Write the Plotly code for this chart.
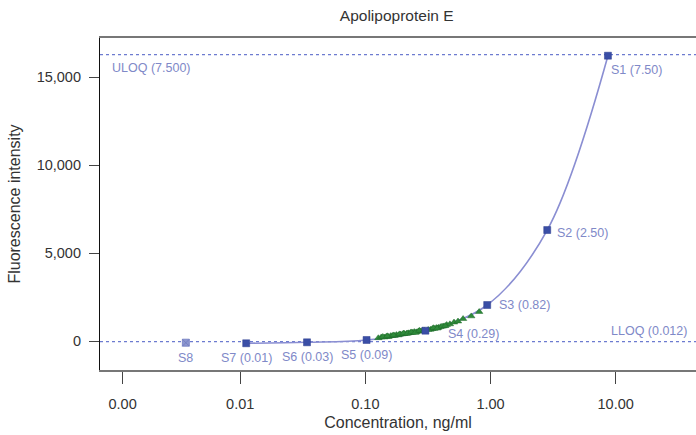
import math
import plotly.graph_objects as go

# Standards
std_names = ["S1 (7.50)", "S2 (2.50)", "S3 (0.82)", "S4 (0.29)", "S5 (0.09)", "S6 (0.03)", "S7 (0.01)", "S8"]
std_conc = [8.68, 2.84, 0.941, 0.302, 0.1023, 0.0342, 0.01117, 0.00368]
std_fi = [16210, 6305, 2045, 585, 57, -74, -130, -97]

# Samples (green triangles)
smp_conc = [0.127, 0.134, 0.142, 0.147, 0.153, 0.159, 0.164, 0.171, 0.177, 0.184,
            0.191, 0.198, 0.205, 0.213, 0.221, 0.229, 0.238, 0.246, 0.256, 0.265,
            0.275, 0.285, 0.331, 0.343, 0.356, 0.369, 0.383, 0.398, 0.422, 0.447,
            0.474, 0.511, 0.550, 0.604, 0.702, 0.812,
            0.138, 0.150, 0.168, 0.187, 0.202, 0.217, 0.233, 0.250, 0.270, 0.295,
            0.318, 0.350, 0.376, 0.410, 0.435]
smp_fi = [170, 215, 210, 250, 240, 290, 300, 300, 350, 330,
          380, 390, 410, 420, 450, 470, 480, 520, 505, 550,
          560, 590, 650, 690, 700, 750, 760, 800, 840, 920,
          960, 1060, 1120, 1260, 1410, 1660,
          240, 280, 330, 390, 440, 430, 500, 470, 590, 600,
          640, 740, 720, 830, 860]

# Limits of quantitation
uloq_fi = 16267
lloq_fi = -40
uloq_label = "ULOQ (7.500)"
lloq_label = "LLOQ (0.012)"

x_tickvals = [0.00115, 0.01, 0.1, 1, 10]
x_ticktext = ["0.00", "0.01", "0.10", "1.00", "10.00"]
y_tickvals = [0, 5000, 10000, 15000]
y_ticktext = ["0", "5,000", "10,000", "15,000"]

FONT = "Liberation Sans, Arial, Helvetica, sans-serif"
LBL = "#8089c8"
MK = "#3a4ea6"
TXT = "#333333"

fig = go.Figure()

# fitted curve through standards S1..S7
curve_x = std_conc[:7][::-1]
curve_y = std_fi[:7][::-1]
fig.add_trace(go.Scatter(x=curve_x, y=curve_y, mode="lines",
                         line=dict(color="#8a8ed2", width=1.6, shape="spline", smoothing=1.0),
                         hoverinfo="skip", showlegend=False))

# samples
fig.add_trace(go.Scatter(x=smp_conc, y=smp_fi, mode="markers",
                         marker=dict(symbol="triangle-up", size=6.5, color="#2f8a3a",
                                     line=dict(color="#1f6b2a", width=0.5)),
                         showlegend=False))

# standards S1..S7
fig.add_trace(go.Scatter(x=std_conc[:7], y=std_fi[:7], mode="markers",
                         marker=dict(symbol="square", size=7, color=MK,
                                     line=dict(color="#2c3d8f", width=0.5)),
                         showlegend=False))
# S8 (excluded)
fig.add_trace(go.Scatter(x=std_conc[7:], y=std_fi[7:], mode="markers",
                         marker=dict(symbol="square-x", size=7, color="#8d97cf",
                                     line=dict(color="#6f7bc0", width=0.8)),
                         showlegend=False))

# ULOQ / LLOQ lines
for v in (uloq_fi, lloq_fi):
    fig.add_shape(type="line", xref="paper", x0=0, x1=1, yref="y", y0=v, y1=v,
                  line=dict(color="#6d7bd0", width=1.2, dash="dot"), layer="below")

LFONT = dict(family=FONT, size=12.5, color=LBL)
annos = []
annos.append(dict(xref="paper", x=0.017, yref="y", y=uloq_fi, text=uloq_label,
                  xanchor="left", yanchor="top", yshift=-4, showarrow=False, font=LFONT))
annos.append(dict(xref="paper", x=0.988, yref="y", y=lloq_fi, text=lloq_label,
                  xanchor="right", yanchor="bottom", yshift=2, showarrow=False, font=LFONT))

# standard labels
right_shift = [(1, -14), (8, -3), (10, 0), (21, -3)]
for i in range(4):
    dx, dy = right_shift[i]
    annos.append(dict(x=math.log10(std_conc[i]), y=std_fi[i], xref="x", yref="y",
                      text=std_names[i], xanchor="left", yanchor="middle",
                      xshift=dx, yshift=dy, showarrow=False, font=LFONT))
for i in range(4, 8):
    annos.append(dict(x=math.log10(std_conc[i]), y=std_fi[i], xref="x", yref="y",
                      text=std_names[i], xanchor="center", yanchor="middle",
                      yshift=-15, showarrow=False, font=LFONT))

fig.update_layout(
    width=696, height=435,
    margin=dict(l=100, r=0, t=38, b=65),
    paper_bgcolor="white", plot_bgcolor="white",
    font=dict(family=FONT, size=14, color=TXT),
    title=dict(text="Apolipoprotein E", x=0.57, xanchor="center", y=0.965, yanchor="middle",
               font=dict(family=FONT, size=15.5, color=TXT)),
    annotations=annos,
    showlegend=False,
)

fig.update_xaxes(type="log", range=[-3.12, 1.642],
                 tickvals=x_tickvals, ticktext=x_ticktext,
                 ticks="outside", ticklen=12, tickcolor="#444444", tickwidth=1,
                 showline=True, linecolor="#777777", linewidth=1.5, mirror=True,
                 showgrid=False, zeroline=False, ticklabelstandoff=8,
                 tickfont=dict(family=FONT, size=14.5, color=TXT),
                 title=dict(text="Concentration, ng/ml", standoff=6,
                            font=dict(family=FONT, size=16, color=TXT)))
fig.update_yaxes(range=[-1648, 17216],
                 tickvals=y_tickvals, ticktext=y_ticktext,
                 ticks="outside", ticklen=10, tickcolor="#444444", tickwidth=1,
                 showline=True, linecolor="#111111", linewidth=1.2,
                 showgrid=False, zeroline=False, ticklabelstandoff=5,
                 tickfont=dict(family=FONT, size=14.5, color=TXT),
                 title=dict(text="Fluorescence intensity", standoff=12,
                            font=dict(family=FONT, size=16, color=TXT)))

fig.write_html("out.html", config={"displayModeBar": False},
               post_script="document.body.style.margin='0';document.body.style.overflow='hidden';")
